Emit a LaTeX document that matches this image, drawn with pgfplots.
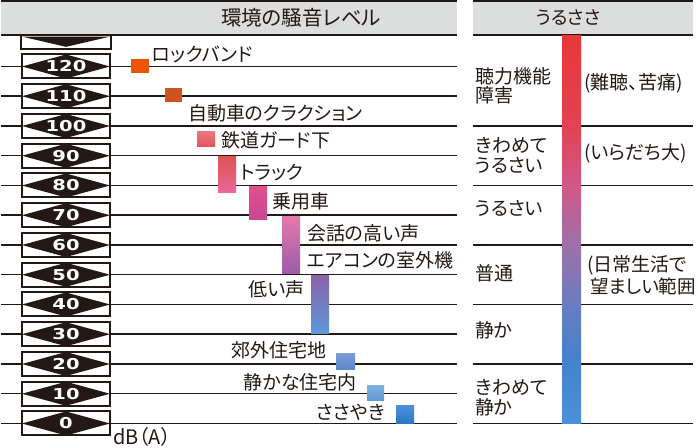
\documentclass[border=0pt]{standalone}
\usepackage{fontspec}
\setmainfont{Noto Sans CJK JP}[RawFeature={+palt}]
\newfontfamily\numfont{DejaVu Sans}[FakeStretch=1.3]
\usepackage{pgfplots}
\pgfplotsset{compat=1.18}

\definecolor{ink}{HTML}{231815}
\definecolor{hdr}{HTML}{DCDDDD}
\definecolor{cRock}{HTML}{EA5506}
\definecolor{cHorn}{HTML}{CD5320}
\definecolor{s0}{HTML}{4A92DA}
\definecolor{s1}{HTML}{4482CC}
\definecolor{s2}{HTML}{6A7CC0}
\definecolor{s3}{HTML}{A070A8}
\definecolor{s4}{HTML}{D05888}
\definecolor{s5}{HTML}{E24252}
\definecolor{s6}{HTML}{E83838}

% loudness scale, colour stops between 25bp and 75bp
\pgfdeclareverticalshading{loud}{100bp}{%
  color(0bp)=(s0); color(25bp)=(s0); color(33bp)=(s1); color(40.5bp)=(s2);
  color(48.25bp)=(s3); color(55.75bp)=(s4); color(63.5bp)=(s5);
  color(75bp)=(s6); color(100bp)=(s6)}

\tikzset{
  lvl/.style={ink, line width=1.5pt},
  lbl/.style={text=ink, inner sep=0pt, font=\fontsize{19}{21}\selectfont},
  rl/.style={text=ink, inner sep=0pt, font=\fontsize{19}{21}\selectfont, anchor=west},
  dbbox/.style={draw=ink, line width=2pt, fill=white, minimum width=88pt,
    minimum height=24pt, inner sep=0pt, text=white,
    font=\numfont\bfseries\fontsize{15}{15}\selectfont,
    path picture={\fill[ink] (path picture bounding box.west) -- (path picture bounding box.north)
      -- (path picture bounding box.east) -- (path picture bounding box.south) -- cycle;}},
}

\begin{document}
\begin{tikzpicture}
\begin{axis}[
  width=698pt, height=448pt, scale only axis,
  xmin=0, xmax=698, ymin=-8.24, ymax=142.35,
  hide axis, clip=false]

% headers
\fill[hdr] (axis cs:1,130.6) rectangle (axis cs:457,142.0);
\fill[hdr] (axis cs:473,130.6) rectangle (axis cs:693,142.0);
\draw[ink, line width=2pt] (axis cs:1,142.0) -- (axis cs:457,142.0);
\draw[ink, line width=2pt] (axis cs:473,142.0) -- (axis cs:693,142.0);
\draw[lvl] (axis cs:1,130.6) -- (axis cs:457,130.6);
\draw[lvl] (axis cs:473,130.6) -- (axis cs:693,130.6);
\node[text=ink, font=\fontsize{20.5}{22}\selectfont] at (axis cs:301,136.3) {環境の騒音レベル};
\node[text=ink, font=\fontsize{18.5}{21}\selectfont] at (axis cs:568,136.3) {うるささ};

% level lines
\pgfplotsinvokeforeach{0,10,...,120}{\addplot[lvl] coordinates {(1,#1) (457,#1)};}
\pgfplotsinvokeforeach{0,20,...,100}{\addplot[lvl] coordinates {(473,#1) (693,#1)};}

% sources
\addplot[draw=none, fill=cRock] coordinates {(131,117.9) (149,117.9) (149,122.5) (131,122.5)} -- cycle;
\addplot[draw=none, fill=cHorn] coordinates {(165,108.1) (182,108.1) (182,112.8) (165,112.8)} -- cycle;
\addplot[draw=none, top color={rgb,255:red,236;green,118;blue,128}, bottom color={rgb,255:red,224;green,84;blue,94}]
  coordinates {(197,93.0) (215,93.0) (215,98.0) (197,98.0)} -- cycle;
\addplot[draw=none, top color={rgb,255:red,222;green,84;blue,82}, bottom color={rgb,255:red,232;green,104;blue,152}]
  coordinates {(218,77.8) (236,77.8) (236,89.6) (218,89.6)} -- cycle;
\addplot[draw=none, top color={rgb,255:red,226;green,80;blue,138}, bottom color={rgb,255:red,200;green,70;blue,150}]
  coordinates {(249,68.4) (267,68.4) (267,79.8) (249,79.8)} -- cycle;
\addplot[draw=none, top color={rgb,255:red,228;green,122;blue,170}, bottom color={rgb,255:red,154;green,92;blue,168}]
  coordinates {(282,50.3) (300,50.3) (300,69.7) (282,69.7)} -- cycle;
\addplot[draw=none, top color={rgb,255:red,138;green,98;blue,168}, bottom color={rgb,255:red,92;green,152;blue,216}]
  coordinates {(311,30.4) (329,30.4) (329,49.9) (311,49.9)} -- cycle;
\addplot[draw=none, top color={rgb,255:red,122;green,154;blue,216}, bottom color={rgb,255:red,92;green,136;blue,200}]
  coordinates {(336,18.3) (355,18.3) (355,23.4) (336,23.4)} -- cycle;
\addplot[draw=none, top color={rgb,255:red,128;green,176;blue,224}, bottom color={rgb,255:red,94;green,152;blue,212}]
  coordinates {(367,7.6) (384,7.6) (384,12.6) (367,12.6)} -- cycle;
\addplot[draw=none, top color={rgb,255:red,74;green,144;blue,216}, bottom color={rgb,255:red,42;green,120;blue,192}]
  coordinates {(396,0) (414,0) (414,5.9) (396,5.9)} -- cycle;

% loudness bar
\addplot[draw=none, shading=loud] coordinates {(562,0) (581,0) (581,130.25) (562,130.25)} -- cycle;

% source labels
\node[lbl, anchor=west] at (axis cs:152,124.2) {ロックバンド};
\node[lbl, anchor=west] at (axis cs:188,104.2) {自動車のクラクション};
\node[lbl, anchor=west] at (axis cs:221,95.3) {鉄道ガード下};
\node[lbl, anchor=west] at (axis cs:240,84.5) {トラック};
\node[lbl, anchor=west] at (axis cs:272,74.6) {乗用車};
\node[lbl, anchor=west] at (axis cs:307,64.0) {会話の高い声};
\node[lbl, anchor=west] at (axis cs:307,54.8) {エアコンの室外機};
\node[lbl, anchor=east] at (axis cs:305,45.0) {低い声};
\node[lbl, anchor=east] at (axis cs:327,24.7) {郊外住宅地};
\node[lbl, anchor=east] at (axis cs:357,13.9) {静かな住宅内};
\node[lbl, anchor=east] at (axis cs:385,3.9) {ささやき};
\node[text=ink, inner sep=0pt, font=\fontsize{20}{22}\selectfont, anchor=west] at (axis cs:113,-4.6) {dB（A）};

% loudness labels
\node[rl] at (axis cs:475,116.8) {聴力機能};
\node[rl] at (axis cs:475,110.4) {障害};
\node[rl] at (axis cs:584,114.3) {(難聴、苦痛)};
\node[rl] at (axis cs:475,93.6) {きわめて};
\node[rl] at (axis cs:475,86.9) {うるさい};
\node[rl] at (axis cs:584,90.9) {(いらだち大)};
\node[rl] at (axis cs:475,72.3) {うるさい};
\node[rl] at (axis cs:475,50.6) {普通};
\node[rl] at (axis cs:587,53.3) {(日常生活で};
\node[rl, font=\fontsize{18.5}{21}\selectfont] at (axis cs:590,46.1) {望ましい範囲};
\node[rl] at (axis cs:475,31.3) {静か};
\node[rl] at (axis cs:475,12.1) {きわめて};
\node[rl] at (axis cs:475,5.4) {静か};

% dB scale boxes
\draw[ink, line width=2pt] (axis cs:21,130.25) -- (axis cs:21,125.9) -- (axis cs:111,125.9) -- (axis cs:111,130.25);
\fill[ink] (axis cs:22.5,130.0) -- (axis cs:109.5,130.0) -- (axis cs:66,126.6) -- cycle;
\pgfplotsinvokeforeach{0,10,...,120}{\node[dbbox] at (axis cs:66,#1) {#1};}
\end{axis}
\pgfresetboundingbox
\path[use as bounding box] (current axis.south west) rectangle (current axis.north east);
\end{tikzpicture}
\end{document}
